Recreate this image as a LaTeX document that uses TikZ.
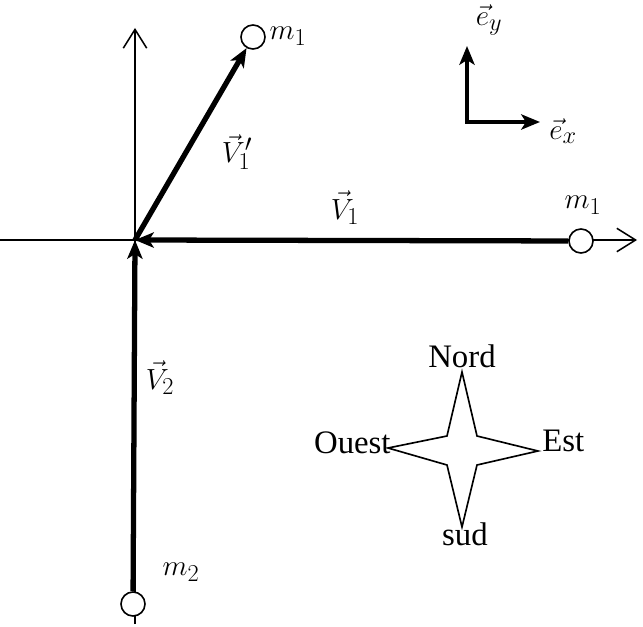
\documentclass[tikz,border=0pt]{standalone}
\usepackage{fontspec}
\setmainfont{Liberation Serif}
\usetikzlibrary{arrows.meta}
\begin{document}
\begin{tikzpicture}[x=0.03cm,y=-0.03cm,
  thin axis/.style={line width=1.3pt,-{Straight Barb[length=16pt,width=20pt,line width=1.3pt]}},
  thick vec/.style={line width=4.5pt,-{Stealth[length=16pt,width=13pt,inset=4pt]}},
  mass/.style={circle,draw,line width=1.4pt,fill=white,minimum size=0.72cm,inner sep=0pt},
  lbl/.style={font=\fontsize{29}{34}\selectfont,inner sep=1pt},
  txt/.style={font=\fontsize{28}{32}\selectfont,inner sep=1pt}]
\useasboundingbox (0,0) rectangle (643,627);
\coordinate (O) at (135,240);
\coordinate (xl) at (0,240);
\coordinate (xr) at (637,240);
\coordinate (yb) at (135,624);
\coordinate (yt) at (135,28);
% axes
\draw[thin axis] (xl) -- (xr);
\draw[thin axis] (yb) -- (yt);
% masses
\node[mass] (m1b) at (581,241) {};
\node[mass] (m1a) at (253,37) {};
\node[mass] (m2) at (133,604) {};
% thick vectors
\draw[thick vec] (m1b) -- (O);
\draw[thick vec] (m2) -- (O);
\draw[thick vec] (O) -- (m1a);
% labels
\node[lbl] (lm1a) at (288,36) {$m_1$};
\node[lbl] (lv1p) at (237,152) {$\vec{V}_1'$};
\node[lbl] (lv1) at (345,208) {$\vec{V}_1$};
\node[lbl] (lm1b) at (583,205) {$m_1$};
\node[lbl] (lv2) at (160,378) {$\vec{V}_2$};
\node[lbl] (lm2) at (181,572) {$m_2$};
% basis
\coordinate (c) at (467,122);
\coordinate (ey) at (467,46);
\coordinate (ex) at (540,122);
\draw[line width=4pt,line join=miter,{Stealth[length=16pt,width=13pt,inset=4pt]}-{Stealth[length=16pt,width=13pt,inset=4pt]}] (ey) -- (c) -- (ex);
\node[lbl] (ley) at (489,20) {$\vec{e}_y$};
\node[lbl] (lex) at (563,131) {$\vec{e}_x$};
% compass star
\draw[line width=1.4pt,line join=miter] (462,372) -- (477,436) -- (538,451) -- (477,465) -- (462,527) -- (447,465) -- (388,448) -- (447,436) -- cycle;
\node[txt] (nord) at (462,356) {Nord};
\node[txt,anchor=east] (ouest) at (392,443) {Ouest};
\node[txt,anchor=west] (est) at (541,441) {Est};
\node[txt] (sud) at (465,534) {sud};
\end{tikzpicture}
\end{document}
